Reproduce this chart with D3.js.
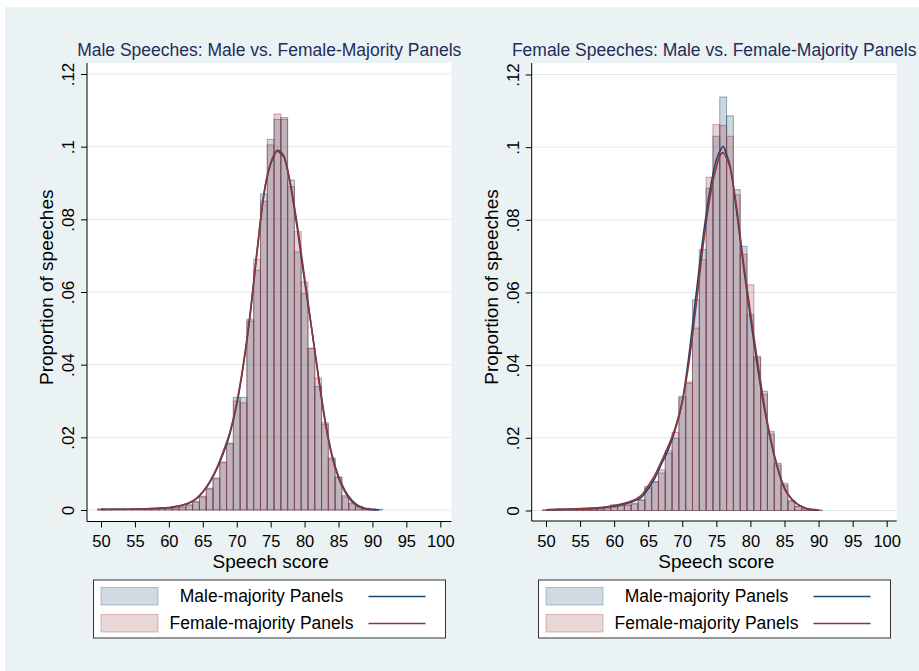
<!DOCTYPE html>
<html>
<head>
<meta charset="utf-8">
<script src="https://cdn.jsdelivr.net/npm/d3@7"></script>
<style>
  body { margin: 0; background: #fff; }
  svg { display: block; font-family: "Liberation Sans", Arial, sans-serif; }
</style>
</head>
<body>
<svg id="chart" width="919" height="671"></svg>
<script>
// ---- data ----
const binCenters = [50, 51, 52, 53, 54, 55, 56, 57, 58, 59, 60, 61, 62, 63, 64, 65, 66, 67, 68, 69, 70,
  71, 72, 73, 74, 75, 76, 77, 78, 79, 80, 81, 82, 83, 84, 85, 86, 87, 88, 89, 90, 91];

// male speeches panel: share of speeches per score, by panel type
const maleSpMalePanel = [0.0003, 0.0001, 0.0002, 0.0002, 0.0001, 0.0002, 0.0002, 0.0003, 0.0004, 0.0004, 0.0005,
  0.0006, 0.0008, 0.0014, 0.0022, 0.0036, 0.006, 0.0088, 0.0132, 0.0184, 0.031,
  0.031, 0.052, 0.066, 0.087, 0.102, 0.1075, 0.108, 0.0908, 0.071, 0.0596,
  0.0445, 0.034, 0.024, 0.0143, 0.0091, 0.0036, 0.0019, 0.001, 0.0005, 0.0003, 0.0002];
const maleSpFemPanel = [0.0002, 0.0001, 0.0001, 0.0001, 0.0002, 0.0002, 0.0002, 0.0003, 0.0003, 0.0004, 0.0006,
  0.0005, 0.0009, 0.0013, 0.0023, 0.0038, 0.0058, 0.0086, 0.013, 0.0182, 0.030,
  0.0295, 0.0525, 0.069, 0.085, 0.1005, 0.109, 0.1075, 0.089, 0.0766, 0.0628,
  0.0445, 0.0363, 0.0235, 0.014, 0.009, 0.004, 0.0017, 0.0008, 0.0004, 0.0002, 0];

// female speeches panel
const femSpMalePanel = [0.0002, 0, 0.0001, 0.0001, 0.0002, 0.0005, 0.0002, 0.0003, 0.0005, 0.0006, 0.0008,
  0.0012, 0.0014, 0.0018, 0.0028, 0.0062, 0.0078, 0.0103, 0.0158, 0.0199, 0.0314,
  0.035, 0.058, 0.0718, 0.0887, 0.103, 0.1138, 0.1086, 0.0883, 0.0727, 0.0539,
  0.0424, 0.0328, 0.0217, 0.013, 0.007, 0.0025, 0.0011, 0.0004, 0.0002, 0.0001, 0];
const femSpFemPanel = [0.0001, 0.0001, 0.0001, 0.0002, 0.0001, 0.0006, 0.0003, 0.0003, 0.0004, 0.0008, 0.0016,
  0.0015, 0.0016, 0.002, 0.003, 0.0066, 0.008, 0.0112, 0.0165, 0.0215, 0.031,
  0.0354, 0.0502, 0.069, 0.0917, 0.1062, 0.106, 0.103, 0.0869, 0.0705, 0.0621,
  0.042, 0.032, 0.021, 0.0125, 0.0075, 0.0028, 0.0012, 0.0005, 0.0002, 0.0001, 0];

// kernel density lines, read at these scores
const densX = [50, 52, 54, 56, 58, 60, 61, 62, 63, 64, 65, 66, 67, 68, 69, 70, 71, 72, 73, 74, 75, 75.5,
  76, 76.5, 77, 78, 79, 80, 81, 82, 83, 84, 85, 86, 87, 88, 89, 90, 91];
const densMaleSpMalePanel = [0.0002, 0.0002, 0.0002, 0.0003, 0.0004, 0.0006, 0.0009, 0.0013, 0.0019, 0.003,
  0.0049, 0.0075, 0.011, 0.0155, 0.021, 0.029, 0.040, 0.054, 0.071, 0.0868, 0.0952, 0.0975,
  0.099, 0.0985, 0.0972, 0.0885, 0.0765, 0.063, 0.0505, 0.0375, 0.025, 0.0155, 0.0092, 0.0052,
  0.0026, 0.0011, 0.0004, 0.0001, 0];
const densMaleSpFemPanel = [0.0001, 0.0002, 0.0002, 0.0003, 0.0005, 0.0007, 0.001, 0.0014, 0.002, 0.0031,
  0.005, 0.0077, 0.0113, 0.016, 0.0215, 0.0295, 0.0405, 0.0545, 0.0715, 0.087, 0.0955, 0.0978,
  0.0988, 0.098, 0.097, 0.089, 0.0775, 0.064, 0.0505, 0.037, 0.0245, 0.015, 0.0088, 0.0048,
  0.0022, 0.0009, 0.0003, 0.0001, null];
const densFemSpMalePanel = [0.0002, 0.0003, 0.0004, 0.0005, 0.0007, 0.0012, 0.0015, 0.002, 0.0027, 0.0036,
  0.006, 0.009, 0.013, 0.017, 0.0225, 0.030, 0.043, 0.059, 0.0745, 0.0875, 0.0965, 0.0988,
  0.1002, 0.098, 0.095, 0.082, 0.067, 0.053, 0.040, 0.0285, 0.019, 0.0115, 0.006, 0.0032,
  0.0016, 0.0007, 0.0002, 0.0001, null];
const densFemSpFemPanel = [0.0002, 0.0003, 0.0004, 0.0006, 0.0008, 0.0014, 0.0018, 0.0023, 0.003, 0.0042,
  0.0068, 0.0098, 0.0138, 0.018, 0.023, 0.030, 0.041, 0.056, 0.072, 0.0855, 0.0945, 0.0975,
  0.0985, 0.097, 0.0945, 0.083, 0.068, 0.0545, 0.0415, 0.0295, 0.0195, 0.0118, 0.0063, 0.0033,
  0.0016, 0.0007, 0.0003, 0.0001, null];

const xTicks = [50, 55, 60, 65, 70, 75, 80, 85, 90, 95, 100];
const yTicks = [0, 0.02, 0.04, 0.06, 0.08, 0.1, 0.12];
const yTickLabels = ["0", ".02", ".04", ".06", ".08", ".1", ".12"];
const legendLabels = ["Male-majority Panels", "Female-majority Panels"];
const panelTitles = ["Male Speeches: Male vs. Female-Majority Panels", "Female Speeches: Male vs. Female-Majority Panels"];

// ---- styling ----
const BG = "#eaf2f3";
const NAVY = "#1a476f";
const MAROON = "#90353b";

const svg = d3.select("#chart");
svg.append("rect").attr("x", 5).attr("y", 7).attr("width", 914).attr("height", 664).attr("fill", BG);

const panels = [
  { title: panelTitles[0], male: maleSpMalePanel, fem: maleSpFemPanel,
    dMale: densMaleSpMalePanel, dFem: densMaleSpFemPanel,
    left: 87, right: 451.5, top: 63, bottom: 521.5, base: 510, x50: 101, x100: 440.3, legX: 93.5 },
  { title: panelTitles[1], male: femSpMalePanel, fem: femSpFemPanel,
    dMale: densFemSpMalePanel, dFem: densFemSpFemPanel,
    left: 531.7, right: 896.7, top: 63, bottom: 521, base: 510.5, x50: 546, x100: 886.7, legX: 538.5 }
];

panels.forEach(drawPanel);

function drawPanel(p) {
  const x = d3.scaleLinear().domain([50, 100]).range([p.x50, p.x100]);
  const y = d3.scaleLinear().domain([0, 0.12]).range([p.base, p.base - 436]);
  const g = svg.append("g");

  // plot region
  g.append("rect")
    .attr("x", p.left).attr("y", p.top)
    .attr("width", p.right - p.left).attr("height", p.bottom - p.top)
    .attr("fill", "#fff");

  // grid lines
  g.selectAll(".grid").data(yTicks).join("line")
    .attr("x1", p.left).attr("x2", p.right)
    .attr("y1", d => y(d)).attr("y2", d => y(d))
    .attr("stroke", "#e1ebee").attr("stroke-width", 1);

  // histogram bars: male-majority first, female-majority on top
  const series = [
    { vals: p.male, color: NAVY },
    { vals: p.fem, color: MAROON }
  ];
  series.forEach(s => {
    const rows = binCenters.map((c, i) => ({ c, v: s.vals[i] })).filter(d => d.v > 0);
    g.append("g").selectAll("rect").data(rows).join("rect")
      .attr("x", d => x(d.c - 0.5))
      .attr("width", d => x(d.c + 0.5) - x(d.c - 0.5))
      .attr("y", d => y(d.v))
      .attr("height", d => y(0) - y(d.v))
      .attr("fill", s.color).attr("fill-opacity", 0.22)
      .attr("stroke", s.color).attr("stroke-opacity", 0.45).attr("stroke-width", 1);
  });

  // density lines
  const line = d3.line()
    .defined(d => d[1] != null)
    .x(d => x(d[0])).y(d => y(d[1]))
    .curve(d3.curveMonotoneX);
  [{ vals: p.dMale, color: NAVY }, { vals: p.dFem, color: MAROON }].forEach(s => {
    g.append("path")
      .datum(densX.map((d, i) => [d, s.vals[i]]))
      .attr("d", line)
      .attr("fill", "none").attr("stroke", s.color).attr("stroke-width", 1.6);
  });

  // axes
  g.append("line").attr("x1", p.left).attr("x2", p.left).attr("y1", p.top).attr("y2", p.bottom)
    .attr("stroke", "#000").attr("stroke-width", 1);
  g.append("line").attr("x1", p.left).attr("x2", p.right).attr("y1", p.bottom).attr("y2", p.bottom)
    .attr("stroke", "#000").attr("stroke-width", 1);

  const ya = g.append("g").attr("transform", `translate(${p.left},0)`)
    .call(d3.axisLeft(y).tickValues(yTicks).tickFormat((d, i) => yTickLabels[i]).tickSize(6).tickSizeOuter(0));
  ya.select(".domain").remove();
  ya.selectAll("line").attr("stroke", "#000");
  ya.selectAll("text")
    .attr("transform", "rotate(-90)")
    .attr("x", 0).attr("y", -13).attr("dy", null)
    .attr("text-anchor", "middle")
    .attr("font-size", 17).attr("fill", "#000");
  ya.attr("font-family", null).attr("font-size", null);

  const xa = g.append("g").attr("transform", `translate(0,${p.bottom})`)
    .call(d3.axisBottom(x).tickValues(xTicks).tickSize(6).tickSizeOuter(0));
  xa.select(".domain").remove();
  xa.selectAll("line").attr("stroke", "#000");
  xa.selectAll("text")
    .attr("y", 25.5).attr("dy", null)
    .attr("font-size", 16.5).attr("fill", "#000");
  xa.attr("font-family", null).attr("font-size", null);

  // axis titles
  g.append("text")
    .attr("transform", `translate(${p.left - 34},${(p.top + p.bottom) / 2 - 5}) rotate(-90)`)
    .attr("text-anchor", "middle").attr("font-size", 19).attr("fill", "#000")
    .text("Proportion of speeches");
  g.append("text")
    .attr("x", (x(50) + x(100)) / 2).attr("y", 568)
    .attr("text-anchor", "middle").attr("font-size", 19).attr("fill", "#000")
    .text("Speech score");

  // panel title
  g.append("text")
    .attr("x", (p.left + p.right) / 2).attr("y", 56)
    .attr("text-anchor", "middle").attr("font-size", 17.5).attr("fill", "#1e2d5c")
    .text(p.title);

  // legend
  const lg = g.append("g").attr("transform", `translate(${p.legX},580)`);
  lg.append("rect").attr("width", 352).attr("height", 58)
    .attr("fill", "#fff").attr("stroke", "#333").attr("stroke-width", 1);
  const items = [{ label: legendLabels[0], color: NAVY }, { label: legendLabels[1], color: MAROON }];
  items.forEach((it, i) => {
    const yy = 7.5 + i * 27;
    lg.append("rect").attr("x", 7.5).attr("y", yy).attr("width", 57).attr("height", 17.5)
      .attr("fill", it.color).attr("fill-opacity", 0.2)
      .attr("stroke", it.color).attr("stroke-opacity", 0.3);
    lg.append("text").attr("x", 168).attr("y", yy + 14.5)
      .attr("text-anchor", "middle").attr("font-size", 17.5).attr("fill", "#000")
      .text(it.label);
    lg.append("line").attr("x1", 275).attr("x2", 332).attr("y1", yy + 9).attr("y2", yy + 9)
      .attr("stroke", it.color).attr("stroke-width", 1.6);
  });
}
</script>
</body>
</html>
